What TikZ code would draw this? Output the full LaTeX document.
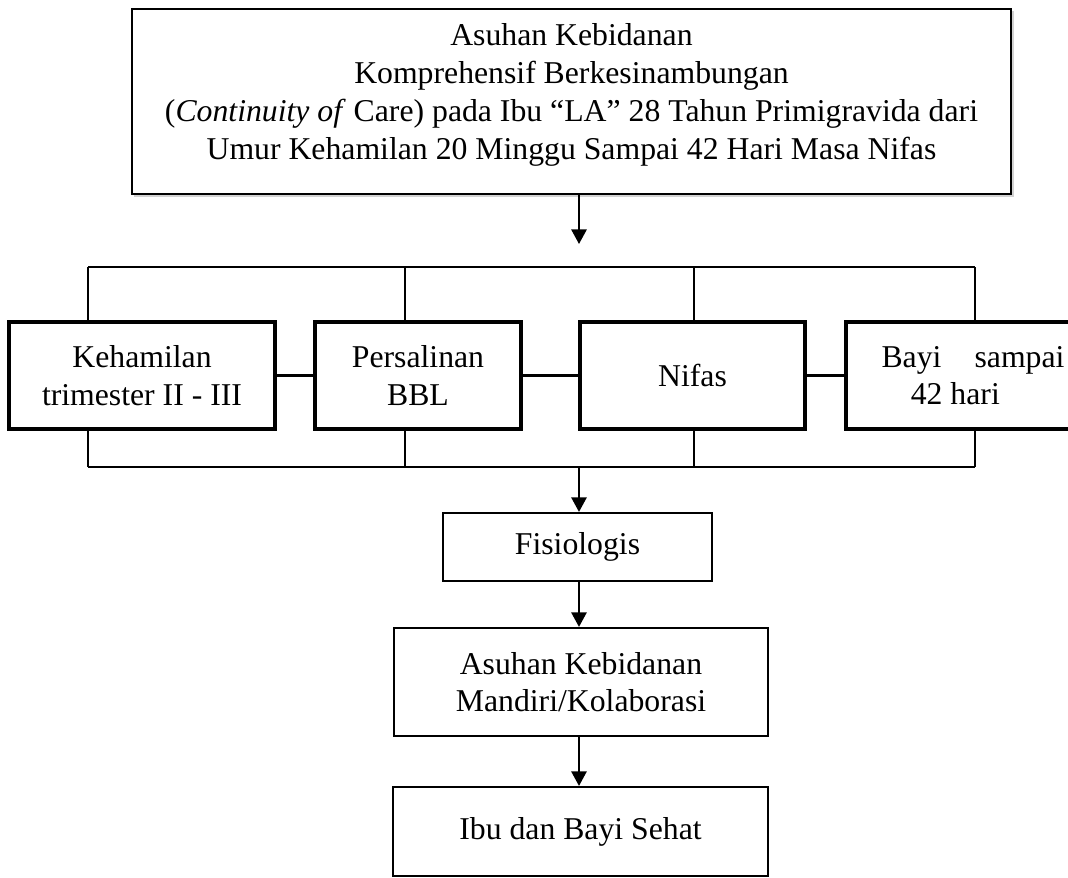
\documentclass[tikz,border=0pt]{standalone}
\usepackage{fontspec}
\setmainfont{Liberation Serif}
\usetikzlibrary{arrows.meta}
\begin{document}
\begin{tikzpicture}[x=0.75pt,y=-0.75pt,
  base/.style={draw, inner sep=0pt, align=center, font=\fontsize{23.8pt}{28pt}\selectfont},
  topbox/.style={base, line width=2pt},
  midbox/.style={base, line width=2.4pt, minimum height=80.25pt},
  lowbox/.style={base, line width=1.6pt},
  txt/.style={inner sep=0pt, align=center, font=\fontsize{23.8pt}{28.5pt}\selectfont},
  bus/.style={line width=1.6pt},
  arr/.style={line width=1.6pt, -{Triangle[width=11.5pt,length=11pt]}}
]
\fill[white] (0,0) rectangle (1068,878);
\clip (0,0) rectangle (1068,878);

% top box with faint shadow
\draw[gray!35, line width=0.8pt] (134,196) -- (1013,196) -- (1013,11);
\node[topbox, minimum width=659.25pt, minimum height=138.75pt] (top) at (571.5,101.5) {};
\node[txt] (toptext) at (571.5,95) {Asuhan Kebidanan\\Komprehensif Berkesinambungan\\(\textit{Continuity of} Care) pada Ibu “LA” 28 Tahun Primigravida dari\\Umur Kehamilan 20 Minggu Sampai 42 Hari Masa Nifas};

% reference column for vertical arrows
\coordinate (ax) at (579,0);
\coordinate (arr1end) at (579,244);

% middle row
\node[midbox, minimum width=199.5pt] (keh) at (142,375.5) {Kehamilan\\trimester II - III};
\node[midbox, minimum width=154.5pt] (pers) at (418,375.5) {Persalinan\\BBL};
\node[midbox, minimum width=168.75pt] (nifas) at (692.5,375.5) {Nifas};
\node[midbox, minimum width=190.5pt] (bayi) at (973,375.5) {\parbox{137.25pt}{Bayi\hfill sampai\\\hspace*{22pt}42 hari}};

% bus frame
\coordinate (bTL) at (88,267);
\coordinate (bTR) at (975,267);
\coordinate (bBL) at (88,467);
\coordinate (bBR) at (975,467);
\coordinate (v2) at (405,267);
\coordinate (v3) at (694,267);
\coordinate (bBM) at (579,467);

\draw[bus] (bTL) -- (bTR);
\draw[bus] (bBL) -- (bBR);
\draw[bus] (bTL) -- (bTL |- keh.north);
\draw[bus] (bBL) -- (bBL |- keh.south);
\draw[bus] (v2) -- (v2 |- pers.north);
\draw[bus] (v2 |- bBL) -- (v2 |- pers.south);
\draw[bus] (v3) -- (v3 |- nifas.north);
\draw[bus] (v3 |- bBL) -- (v3 |- nifas.south);
\draw[bus] (bTR) -- (bTR |- bayi.north);
\draw[bus] (bBR) -- (bBR |- bayi.south);

% horizontal links
\draw[bus] (keh.east) -- (pers.west);
\draw[bus] (pers.east) -- (nifas.west);
\draw[bus] (nifas.east) -- (bayi.west);

% lower boxes
\node[lowbox, minimum width=201.75pt, minimum height=51pt] (fis) at (577.5,547) {Fisiologis};
\node[lowbox, minimum width=280.5pt, minimum height=81pt] (asuhan) at (581,682) {Asuhan Kebidanan\\Mandiri/Kolaborasi};
\node[lowbox, minimum width=281.25pt, minimum height=66.75pt] (ibu) at (580.5,831.5) {Ibu dan Bayi Sehat};

% arrows
\draw[arr] (top.south -| ax) -- (arr1end);
\draw[arr] (bBM) -- (fis.north -| ax);
\draw[arr] (fis.south -| ax) -- (asuhan.north -| ax);
\draw[arr] (asuhan.south -| ax) -- (ibu.north -| ax);
\end{tikzpicture}
\end{document}
